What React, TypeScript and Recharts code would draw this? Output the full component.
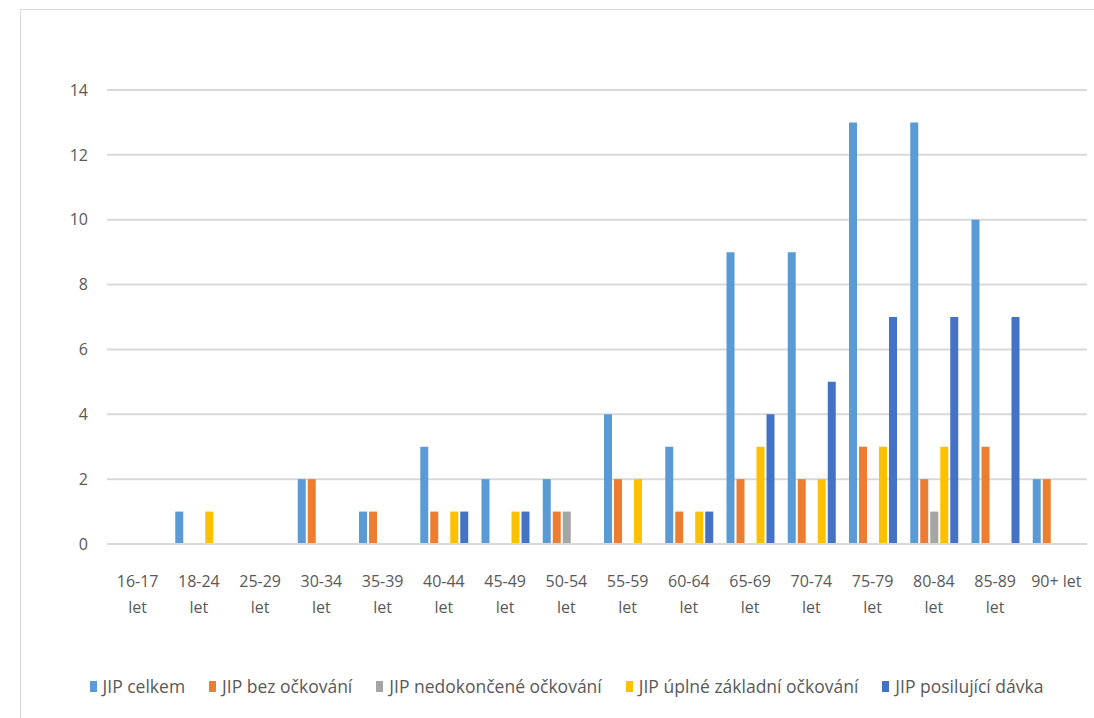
import React from "react";
import { BarChart, Bar, XAxis, YAxis, CartesianGrid, Legend } from "recharts";

const categories = [
  "16-17 let", "18-24 let", "25-29 let", "30-34 let", "35-39 let", "40-44 let",
  "45-49 let", "50-54 let", "55-59 let", "60-64 let", "65-69 let", "70-74 let",
  "75-79 let", "80-84 let", "85-89 let", "90+ let",
];
const jipCelkem = [0, 1, 0, 2, 1, 3, 2, 2, 4, 3, 9, 9, 13, 13, 10, 2];
const jipBez = [0, 0, 0, 2, 1, 1, 0, 1, 2, 1, 2, 2, 3, 2, 3, 2];
const jipNedok = [0, 0, 0, 0, 0, 0, 0, 1, 0, 0, 0, 0, 0, 1, 0, 0];
const jipUplne = [0, 1, 0, 0, 0, 1, 1, 0, 2, 1, 3, 2, 3, 3, 0, 0];
const jipPosil = [0, 0, 0, 0, 0, 1, 1, 0, 0, 1, 4, 5, 7, 7, 7, 0];
const yTicks = [0, 2, 4, 6, 8, 10, 12, 14];

const seriesNames = [
  "JIP celkem",
  "JIP bez očkování",
  "JIP nedokončené očkování",
  "JIP úplné základní očkování",
  "JIP posilující dávka",
];
const seriesColors = ["#5B9BD5", "#ED7D31", "#A5A5A5", "#FFC000", "#4472C4"];

const data = categories.map((c, i) => ({
  cat: c,
  s0: jipCelkem[i],
  s1: jipBez[i],
  s2: jipNedok[i],
  s3: jipUplne[i],
  s4: jipPosil[i],
}));

const FONT = "'Open Sans', 'Liberation Sans', sans-serif";

const XTick = (props: any) => {
  const { x, y, payload } = props;
  const label: string = payload.value;
  const lines = label.length > 7 ? label.split(" ") : [label];
  return (
    <text x={x} y={y} textAnchor="middle" fill="#595959" fontSize={16} fontFamily={FONT}>
      {lines.map((l, i) => (
        <tspan key={i} x={x} dy={i === 0 ? 35 : 26}>
          {l}
        </tspan>
      ))}
    </text>
  );
};

const LegendContent = () => (
  <div
    style={{
      display: "flex",
      justifyContent: "center",
      alignItems: "center",
      fontFamily: FONT,
      fontSize: 17.5,
      color: "#595959",
      gap: 24,
      paddingLeft: 46,
    }}
  >
    {seriesNames.map((n, i) => (
      <div key={n} style={{ display: "flex", alignItems: "center" }}>
        <span
          style={{
            display: "inline-block",
            width: 7,
            height: 11,
            background: seriesColors[i],
            marginRight: 6,
          }}
        />
        <span>{n}</span>
      </div>
    ))}
  </div>
);

export default function App() {
  return (
    <div
      style={{
        position: "absolute",
        left: 0,
        top: 0,
        width: 1094,
        height: 718,
        overflow: "hidden",
        background: "#fff",
      }}
    >
      <div
        style={{
          position: "absolute",
          left: 20,
          top: 9,
          width: 1200,
          height: 800,
          border: "1px solid #d9d9d9",
          boxSizing: "border-box",
        }}
      />
      <div style={{ position: "absolute", left: 0, top: 0 }}>
        <BarChart
          width={1094}
          height={718}
          data={data}
          margin={{ top: 90, right: 7, bottom: 0, left: 0 }}
          barSize={8}
          barGap={2}
        >
          <CartesianGrid vertical={false} stroke="#d9d9d9" strokeWidth={2} />
          <XAxis
            dataKey="cat"
            interval={0}
            axisLine={{ stroke: "#d9d9d9", strokeWidth: 2 }}
            tickLine={false}
            tick={<XTick />}
            height={150}
          />
          <YAxis
            width={107}
            domain={[0, 14]}
            ticks={yTicks}
            axisLine={false}
            tickLine={false}
            tickSize={0}
            tickMargin={19}
            tick={{ fill: "#595959", fontSize: 16, fontFamily: FONT }}
          />
          <Legend
            verticalAlign="bottom"
            wrapperStyle={{ bottom: 20 }}
            content={<LegendContent />}
          />
          {seriesNames.map((n, i) => (
            <Bar
              key={n}
              dataKey={`s${i}`}
              name={n}
              fill={seriesColors[i]}
              isAnimationActive={false}
            />
          ))}
        </BarChart>
      </div>
    </div>
  );
}
